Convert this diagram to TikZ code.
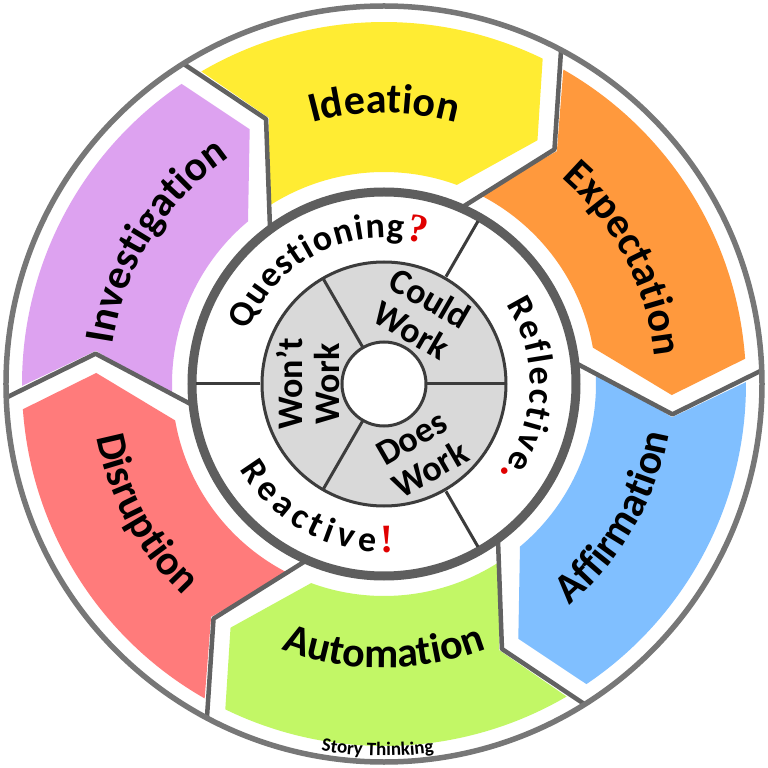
\documentclass[tikz,border=0pt]{standalone}
\usepackage{fontspec}
\usetikzlibrary{decorations.text}
\newfontfamily\carl{Carlito}
\newfontfamily\redserif{Liberation Serif}
\definecolor{ideay}{HTML}{FFEC33}
\definecolor{expo}{HTML}{FF993D}
\definecolor{affb}{HTML}{80BFFF}
\definecolor{autog}{HTML}{C2F766}
\definecolor{disr}{HTML}{FF7B7B}
\definecolor{invp}{HTML}{DDA2F0}
\definecolor{ringgray}{HTML}{777777}
\definecolor{midgray}{HTML}{5E5E5E}
\definecolor{tipgray}{HTML}{626262}
\definecolor{coregray}{HTML}{D9D9D9}
\definecolor{coreline}{HTML}{3C3C3C}
\definecolor{redmark}{HTML}{E00000}
\newcommand\segfont{\carl\bfseries\fontsize{42}{48}\selectfont}
\newcommand\ringfont{\carl\bfseries\fontsize{36}{42}\selectfont}
\newcommand\redfont{\redserif\bfseries\fontsize{40}{44}\selectfont\color{redmark}}
\newcommand\corefont{\carl\bfseries\fontsize{36}{37}\selectfont}
\newcommand\smallfont{\carl\bfseries\fontsize{19}{22}\selectfont}
\tikzset{
  tipline/.style={draw=tipgray, line width=4.5pt, line join=round},
  divider/.style={draw=coreline, line width=3pt},
  coretext/.style={font=\corefont, align=center, inner sep=0pt}
}
\begin{document}
\begin{tikzpicture}[x=1pt,y=1pt]
\useasboundingbox (-384,-384) rectangle (384,384);
\fill[white] (-384,-384) rectangle (384,384);
% coloured segments
\foreach \S/\col in {122/ideay,62/expo,2/affb,-58/autog,-118/disr,182/invp}{
  \fill[\col] ({\S-1.7}:362) -- ({\S-8.6}:290) -- ({\S+1.4}:212)
     arc[start angle={\S+1.4}, end angle={\S-52.1}, radius=212]
     -- ({\S-64.2}:288) -- ({\S-58}:362)
     arc[start angle={\S-58}, end angle={\S-1.7}, radius=362] -- cycle;
}
% tip outlines
\foreach \S in {122,62,2,-58,-118,182}{
  \draw[tipline] ({\S-60}:377) -- ({\S-68}:290) -- ({\S-56}:194);
}
% outer ring
\draw[ringgray, line width=5.5pt] (0,0) circle[radius=378];
% middle ring
\draw[midgray, line width=9pt, fill=white] (0,0) circle[radius=192];
\foreach \a in {60,180,300}{ \draw[divider] (\a:124) -- (\a:188); }
% core
\draw[coreline, line width=3pt, fill=coregray] (0,0) circle[radius=122];
\foreach \a in {0,120,240}{ \draw[divider] (\a:43) -- (\a:121); }
\draw[coreline, line width=3pt, fill=white] (0,0) circle[radius=42];
% core texts
\node[coretext, rotate=-30] (could) at (62:79) {Could\\Work};
\node[coretext, rotate=90] (wont) at (180:76) {Won’t\\Work};
\node[coretext, rotate=30] (does) at (-62:79) {Does\\Work};
% segment texts
\path[decorate, decoration={text along path, text align=center, text={|\segfont|Ideation}}]
  (140:271) arc[start angle=140, end angle=40, radius=271];
\path[decorate, decoration={text along path, text align=center, text={|\segfont|Expectation}}]
  (77.5:272) arc[start angle=77.5, end angle=-22.5, radius=272];
\path[decorate, decoration={text along path, text align=center, text={|\segfont|Investigation}}]
  (198:274) arc[start angle=198, end angle=98, radius=274];
\path[decorate, decoration={text along path, text align=center, text={|\segfont|Affirmation}}]
  (-80:289) arc[start angle=-80, end angle=20, radius=289];
\path[decorate, decoration={text along path, text align=center, text={|\segfont|Automation}}]
  (-141:284) arc[start angle=-141, end angle=-39, radius=284];
\path[decorate, decoration={text along path, text align=center, text={|\segfont|Disruption}}]
  (158.5:292) arc[start angle=158.5, end angle=258.5, radius=292];
% ring texts
\path[decorate, decoration={text along path, text align=fit to path, text={|\ringfont|Questioning|\redfont|?}}]
  (158.7:146) arc[start angle=158.7, end angle=73.8, radius=146];
\path[decorate, decoration={text along path, text align=fit to path, text={|\ringfont|Reflective|\redfont|.}}]
  (32.9:146) arc[start angle=32.9, end angle=-37.9, radius=146];
\path[decorate, decoration={text along path, text align=fit to path, text={|\ringfont|Reactive|\redfont|!}}]
  (210.7:168) arc[start angle=210.7, end angle=273.3, radius=168];
% credit
\path[decorate, decoration={text along path, text align=center, text={|\smallfont|Story Thinking}}]
  (-121:372) arc[start angle=-121, end angle=-61, radius=372];
\end{tikzpicture}
\end{document}
